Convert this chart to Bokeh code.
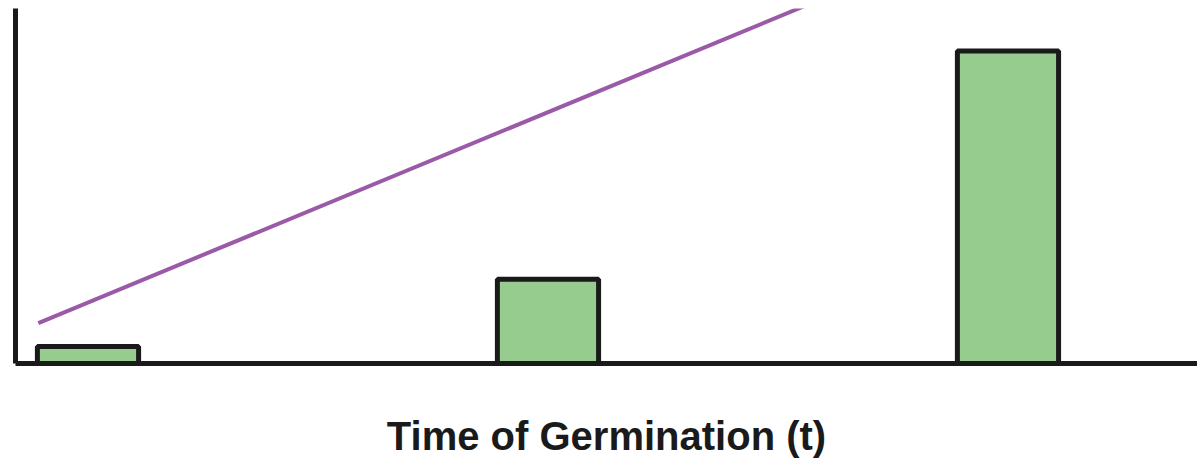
from bokeh.plotting import figure
from bokeh.models import Range1d, FixedTicker
from bokeh.embed import file_html
from bokeh.resources import INLINE

# Data
times = [1, 2, 3]
germination = [4.8, 23.7, 88.0]
trend_t = [0.892, 2.75]
trend_y = [11.4, 111.0]
x_label = "Time of Germination (t)"

p = figure(width=1197, height=467, output_backend="svg", toolbar_location=None,
           x_range=Range1d(0.8424, 3.412), y_range=Range1d(0, 100),
           min_border_left=15, min_border_right=0, min_border_top=8, min_border_bottom=104)

p.vbar(x=times, top=germination, bottom=0, width=0.22,
       fill_color="#96cd8f", line_color="#1a1a1a", line_width=5)
p.line(x=trend_t, y=trend_y, line_color="#9a5aa8", line_width=4)

p.grid.visible = False
p.outline_line_color = None
for ax in (p.xaxis[0], p.yaxis[0]):
    ax.ticker = FixedTicker(ticks=[], minor_ticks=[])
    ax.axis_line_width = 5
    ax.axis_line_color = "#1a1a1a"
    ax.major_tick_line_color = None
    ax.minor_tick_line_color = None
    ax.major_tick_out = 0
    ax.major_tick_in = 0
    ax.minor_tick_out = 0
    ax.major_label_standoff = 0

p.xaxis.axis_label = x_label
p.xaxis.axis_label_text_font = "Liberation Sans"
p.xaxis.axis_label_text_font_style = "bold"
p.xaxis.axis_label_text_font_size = "40px"
p.xaxis.axis_label_text_color = "#1a1a1a"
p.xaxis.axis_label_standoff = 50

open("out.html", "w").write(file_html(p, INLINE))
